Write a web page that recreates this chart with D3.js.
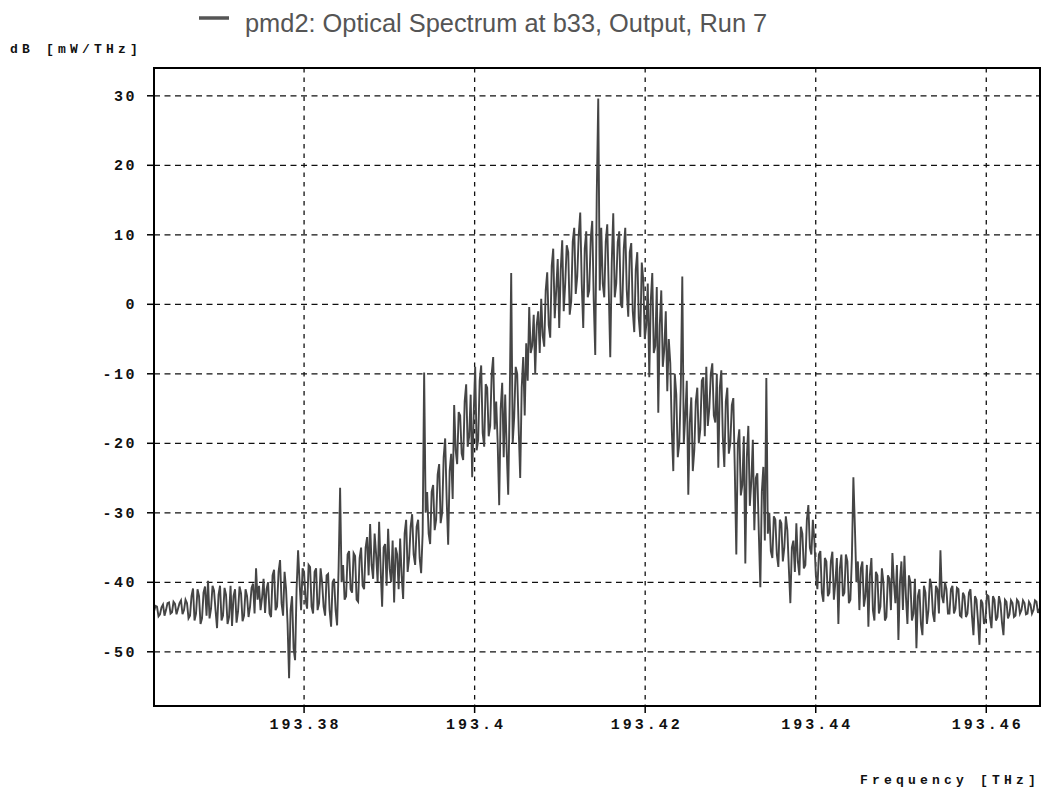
<!DOCTYPE html>
<html>
<head>
<meta charset="utf-8">
<script src="https://cdn.jsdelivr.net/npm/d3@7"></script>
<style>
  html, body { margin: 0; padding: 0; background: #fff; }
  svg { display: block; }
</style>
</head>
<body>
<svg id="svg" width="1042" height="794"></svg>
<script>
const w = 1042;
const h = 794;

// plot area
const plotLeft = 154;
const plotRight = 1040;
const plotTop = 68;
const plotBottom = 706;

const legendText = "pmd2: Optical Spectrum at b33, Output, Run 7";
const yTitle = "dB [mW/THz]";
const xTitle = "Frequency [THz]";

const xTicks = [193.38, 193.4, 193.42, 193.44, 193.46];
const xTickLabels = ["193.38", "193.4", "193.42", "193.44", "193.46"];
const yTicks = [30, 20, 10, 0, -10, -20, -30, -40, -50];
const yTickLabels = ["30", "20", "10", "0", "-10", "-20", "-30", "-40", "-50"];

// spectrum sampling grid (THz)
const freqStart = 193.3624;
const freqStep = 0.000176;

// power values in dB, one per sample
const power = [
  -44.2, -43.4, -43.5, -44.9, -44.6, -43.6, -43.2, -44.8, -44.0, -43.0, -42.9, -44.5, -44.3, -42.8, -43.1, -44.6, -43.8, -43.0, -42.6, -44.6,
  -44.0, -42.5, -43.0, -45.2, -44.8, -42.0, -40.9, -45.5, -44.5, -41.0, -42.0, -46.0, -45.2, -41.5, -40.6, -44.8, -39.8, -45.2, -43.8, -40.5,
  -41.2, -44.0, -46.6, -41.8, -40.5, -45.5, -44.8, -40.8, -41.8, -46.0, -45.0, -40.5, -46.3, -42.0, -41.0, -45.8, -44.2, -40.6, -41.6, -45.6,
  -44.8, -41.0, -42.0, -45.0, -43.5, -40.8, -40.2, -44.5, -38.0, -42.5, -40.5, -44.0, -42.2, -39.5, -44.4, -41.0, -40.0, -44.5, -45.0, -39.0,
  -38.2, -44.0, -43.5, -38.5, -36.8, -43.0, -44.8, -38.5, -41.0, -46.0, -53.8, -44.0, -42.0, -49.5, -51.2, -41.0, -35.4, -40.0, -44.0, -38.0,
  -38.5, -42.5, -43.8, -37.5, -37.8, -43.5, -44.5, -38.5, -38.0, -44.0, -43.0, -38.0, -40.0, -43.5, -44.8, -39.0, -38.8, -44.0, -46.4, -40.0,
  -39.5, -44.0, -46.2, -38.0, -26.4, -40.0, -37.5, -42.5, -42.0, -36.0, -35.5, -41.0, -41.5, -35.8, -36.2, -42.5, -42.8, -36.5, -35.0, -40.5,
  -41.0, -35.0, -33.5, -39.0, -31.6, -37.5, -39.5, -33.0, -36.0, -40.0, -31.3, -38.0, -43.5, -35.0, -34.5, -40.5, -32.3, -38.0, -40.0, -34.0,
  -42.9, -35.0, -36.0, -41.0, -33.7, -39.0, -42.4, -33.0, -31.0, -38.5, -36.5, -32.0, -30.2, -36.0, -37.5, -32.0, -31.0, -36.5, -38.7, -33.0,
  -9.8, -30.0, -27.0, -33.0, -34.5, -27.0, -26.0, -32.5, -31.0, -24.5, -23.0, -31.5, -30.0, -22.0, -19.3, -28.0, -34.6, -24.0, -21.5, -28.0,
  -14.5, -21.0, -23.0, -15.5, -16.0, -21.5, -22.4, -14.0, -11.5, -20.5, -19.0, -13.0, -24.9, -16.0, -9.0, -21.0, -19.5, -11.0, -8.8, -18.5,
  -20.5, -11.5, -12.0, -19.0, -17.5, -10.0, -7.6, -18.0, -14.0, -20.0, -28.9, -15.0, -11.3, -22.0, -13.0, -21.0, -27.4, -14.0, 4.5, -20.0,
  -16.2, -9.0, -10.0, -18.0, -25.0, -12.0, -7.6, -16.0, -5.6, -11.0, -0.4, -7.0, -6.0, -1.5, -10.0, -3.0, -1.0, -7.0, 0.8, -4.5,
  -6.1, 2.0, 4.6, -3.0, -4.8, 5.5, 8.0, -2.0, 2.0, 6.5, -3.4, 5.0, 9.2, -1.0, 3.0, 8.5, 7.5, -1.5, 0.5, 9.0,
  11.0, 1.5, 4.0, 10.0, 13.2, 3.0, -3.4, 8.0, 10.5, 1.0, 2.0, 9.5, 12.0, 0.5, -7.3, 15.7, 29.6, 2.0, 11.0, 3.0,
  1.0, 9.0, 11.5, 2.0, -7.6, 6.0, 13.1, 1.0, 3.0, 9.0, 10.5, 0.0, -0.5, 8.0, 11.0, 2.0, -1.8, 7.5, 8.8, -1.0,
  -4.0, 5.0, 7.5, -2.0, -4.7, 6.0, 3.5, -5.0, -3.0, 3.0, -10.5, 0.5, 4.5, -7.0, -6.0, 2.5, -15.6, -3.0, 2.0, -9.0,
  -6.5, -1.0, -12.5, -5.0, -8.5, -18.0, -24.0, -10.0, -13.0, -22.0, -20.0, -12.0, 4.0, -20.0, -16.0, -11.0, -27.4, -17.0, -13.4, -24.0,
  -21.0, -14.0, -12.0, -20.0, -18.0, -11.0, -10.5, -19.0, -9.0, -17.5, -15.0, -10.0, -8.5, -16.0, -17.0, -10.0, -23.5, -12.0, -9.5, -19.0,
  -23.4, -14.0, -12.0, -21.5, -20.0, -14.5, -13.5, -24.0, -36.0, -20.0, -18.0, -27.5, -26.0, -19.0, -37.3, -22.0, -17.5, -29.0, -25.5, -19.5,
  -32.5, -25.0, -24.3, -33.0, -40.7, -27.0, -23.4, -34.0, -10.6, -33.0, -30.0, -35.5, -36.5, -30.5, -31.0, -36.0, -37.8, -31.0, -31.5, -37.0,
  -35.0, -30.5, -32.5, -38.0, -43.0, -35.0, -34.0, -38.5, -31.5, -37.0, -39.0, -32.0, -33.0, -38.0, -37.5, -31.0, -28.9, -35.0, -36.0, -31.0,
  -34.0, -39.0, -41.0, -36.0, -35.5, -41.5, -42.8, -36.5, -37.0, -42.0, -41.5, -37.0, -35.6, -42.5, -40.0, -36.5, -46.0, -38.0, -36.0, -42.0,
  -41.5, -36.0, -37.0, -43.0, -42.5, -36.5, -24.9, -32.0, -40.0, -37.0, -44.0, -38.0, -37.0, -43.5, -42.0, -37.5, -46.4, -39.0, -36.5, -44.0,
  -45.5, -38.5, -39.0, -44.5, -43.5, -38.0, -40.0, -45.5, -45.0, -39.0, -39.5, -44.0, -35.8, -40.0, -43.0, -37.5, -48.3, -40.0, -37.0, -44.0,
  -36.2, -42.0, -46.0, -39.0, -40.0, -45.5, -44.5, -39.5, -49.5, -42.0, -41.0, -46.0, -47.6, -40.5, -41.5, -46.0, -44.0, -39.5, -40.5, -44.5,
  -45.7, -40.5, -41.0, -44.5, -35.4, -42.0, -43.0, -40.0, -41.0, -44.5, -44.5, -41.0, -40.5, -44.5, -43.8, -40.8, -41.0, -44.8, -45.0, -41.5,
  -42.0, -45.0, -44.5, -41.5, -41.0, -44.8, -47.6, -42.0, -42.5, -45.5, -49.0, -42.5, -43.0, -46.0, -45.5, -41.8, -42.0, -45.0, -46.6, -42.0,
  -42.5, -45.5, -45.0, -42.0, -43.0, -45.8, -47.6, -42.5, -42.8, -45.2, -44.6, -42.6, -43.0, -45.0, -44.8, -42.5, -42.8, -44.5, -44.0, -42.6,
  -43.0, -44.6, -44.5, -42.8, -43.2, -44.5, -44.0, -42.6, -42.8, -44.4, -43.8
];

let svg = d3.select("#svg");

let xScale = d3.scaleLinear([193.3624, 193.4663], [plotLeft, plotRight]);
let yScale = d3.scaleLinear([-57.8, 34], [plotBottom, plotTop]);

svg.append("rect").attr("width", w).attr("height", h).attr("fill", "#fff");

svg
  .append("clipPath")
  .attr("id", "plot-area")
  .append("rect")
  .attr("x", plotLeft)
  .attr("y", plotTop)
  .attr("width", plotRight - plotLeft)
  .attr("height", plotBottom - plotTop);

// grid
svg
  .selectAll(".hgrid")
  .data(yTicks)
  .enter()
  .append("line")
  .attr("x1", plotLeft)
  .attr("x2", plotRight)
  .attr("y1", (d) => yScale(d))
  .attr("y2", (d) => yScale(d))
  .attr("stroke", "#111")
  .attr("stroke-width", 1.2)
  .attr("stroke-dasharray", "6,4.5");

svg
  .selectAll(".vgrid")
  .data(xTicks)
  .enter()
  .append("line")
  .attr("x1", (d) => xScale(d))
  .attr("x2", (d) => xScale(d))
  .attr("y1", plotTop)
  .attr("y2", plotBottom)
  .attr("stroke", "#111")
  .attr("stroke-width", 1.3)
  .attr("stroke-dasharray", "4.5,5");

// trace
let dataset = power.map((p, i) => [freqStart + i * freqStep, p]);

let lineFunc = d3
  .line()
  .x((d) => xScale(d[0]))
  .y((d) => yScale(d[1]));

svg
  .append("path")
  .datum(dataset)
  .attr("clip-path", "url(#plot-area)")
  .attr("fill", "none")
  .attr("stroke", "#454545")
  .attr("stroke-width", 1.9)
  .attr("d", lineFunc);

// frame
svg
  .append("rect")
  .attr("x", plotLeft)
  .attr("y", plotTop)
  .attr("width", plotRight - plotLeft)
  .attr("height", plotBottom - plotTop)
  .attr("fill", "none")
  .attr("stroke", "#000")
  .attr("stroke-width", 2);

// ticks
svg
  .selectAll(".ytick")
  .data(yTicks)
  .enter()
  .append("line")
  .attr("x1", plotLeft - 7)
  .attr("x2", plotLeft)
  .attr("y1", (d) => yScale(d))
  .attr("y2", (d) => yScale(d))
  .attr("stroke", "#000")
  .attr("stroke-width", 1.5);

svg
  .selectAll(".xtick")
  .data(xTicks)
  .enter()
  .append("line")
  .attr("x1", (d) => xScale(d))
  .attr("x2", (d) => xScale(d))
  .attr("y1", plotBottom)
  .attr("y2", plotBottom + 7)
  .attr("stroke", "#000")
  .attr("stroke-width", 1.5);

const monoFont = "'Liberation Mono', 'DejaVu Sans Mono', monospace";

svg
  .selectAll(".ylabel")
  .data(yTicks)
  .enter()
  .append("text")
  .attr("x", 137)
  .attr("y", (d) => yScale(d) + 5)
  .attr("text-anchor", "end")
  .attr("font-family", monoFont)
  .attr("font-weight", "bold")
  .attr("font-size", 15)
  .attr("letter-spacing", 2.5)
  .attr("fill", "#111")
  .text((d, i) => yTickLabels[i]);

svg
  .selectAll(".xlabel")
  .data(xTicks)
  .enter()
  .append("text")
  .attr("x", (d) => xScale(d) + 1.5)
  .attr("y", 729)
  .attr("text-anchor", "middle")
  .attr("font-family", monoFont)
  .attr("font-weight", "bold")
  .attr("font-size", 15)
  .attr("letter-spacing", 3)
  .attr("fill", "#111")
  .text((d, i) => xTickLabels[i]);

// axis titles
svg
  .append("text")
  .attr("x", 10)
  .attr("y", 53)
  .attr("font-family", monoFont)
  .attr("font-weight", "bold")
  .attr("font-size", 13)
  .attr("letter-spacing", 4.2)
  .attr("fill", "#111")
  .text(yTitle);

svg
  .append("text")
  .attr("x", 1040)
  .attr("y", 784)
  .attr("text-anchor", "end")
  .attr("font-family", monoFont)
  .attr("font-weight", "bold")
  .attr("font-size", 13)
  .attr("letter-spacing", 4.2)
  .attr("fill", "#111")
  .text(xTitle);

// legend
svg
  .append("line")
  .attr("x1", 199)
  .attr("x2", 229)
  .attr("y1", 18)
  .attr("y2", 18)
  .attr("stroke", "#555")
  .attr("stroke-width", 3.5);

svg
  .append("text")
  .attr("x", 245)
  .attr("y", 32)
  .attr("font-family", "'Liberation Sans', Arial, sans-serif")
  .attr("font-size", 25.4)
  .attr("fill", "#555")
  .text(legendText);
</script>
</body>
</html>
